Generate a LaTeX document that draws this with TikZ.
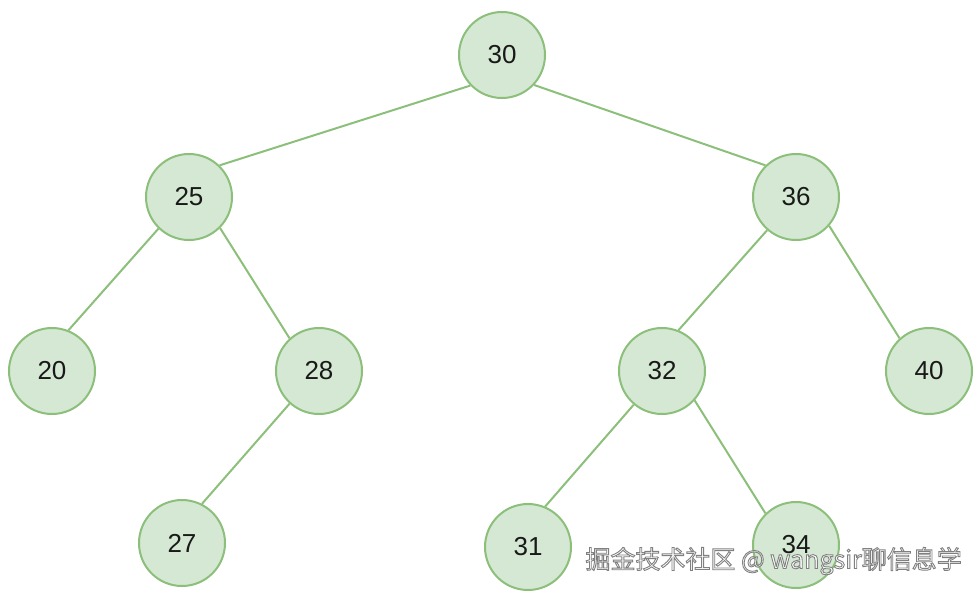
\documentclass[tikz,border=0pt]{standalone}
\usepackage{fontspec}
\setmainfont{Liberation Sans}
\newfontfamily\cjk{Noto Sans CJK SC}
\definecolor{nodefill}{HTML}{D5E8D4}
\definecolor{nodeline}{HTML}{8CBF7A}
\newcommand{\outlinetext}[1]{{\color{white}\special{pdf:literal direct 2 Tr 0.9 w 0.5 0.5 0.5 RG}#1\special{pdf:literal direct 0 Tr}}}
\begin{document}
\begin{tikzpicture}[x=1pt,y=-1pt,
  tn/.style={circle,draw=nodeline,fill=nodefill,line width=2pt,minimum size=86pt,inner sep=0pt,font=\fontsize{26}{30}\selectfont\color{black!90}},
  edge/.style={draw=nodeline,line width=2pt}]
\useasboundingbox (0,0) rectangle (980,597);
\node[tn] (n30) at (502,55) {30};
\node[tn] (n25) at (189,197) {25};
\node[tn] (n36) at (796,197) {36};
\node[tn] (n20) at (52,371) {20};
\node[tn] (n28) at (319,371) {28};
\node[tn] (n32) at (662,371) {32};
\node[tn] (n40) at (929,371) {40};
\node[tn] (n27) at (182,543) {27};
\node[tn] (n31) at (528,547) {31};
\node[tn] (n34) at (796,545) {34};
\path[edge] (n30.224) -- (n25.46);
\path[edge] (n30.317) -- (n36.134);
\path[edge] (n25.226) -- (n20.68);
\path[edge] (n25.315) -- (n28.132);
\path[edge] (n28.228) -- (n27.63);
\path[edge] (n36.229) -- (n32.68);
\path[edge] (n36.319) -- (n40.132);
\path[edge] (n32.230) -- (n31.67);
\path[edge] (n32.318) -- (n34.134);
\node[anchor=east,inner sep=0pt,font=\cjk\fontsize{25}{28}\selectfont] (wm) at (962,561) {\outlinetext{掘金技术社区 @ wangsir聊信息学}};
\end{tikzpicture}
\end{document}
